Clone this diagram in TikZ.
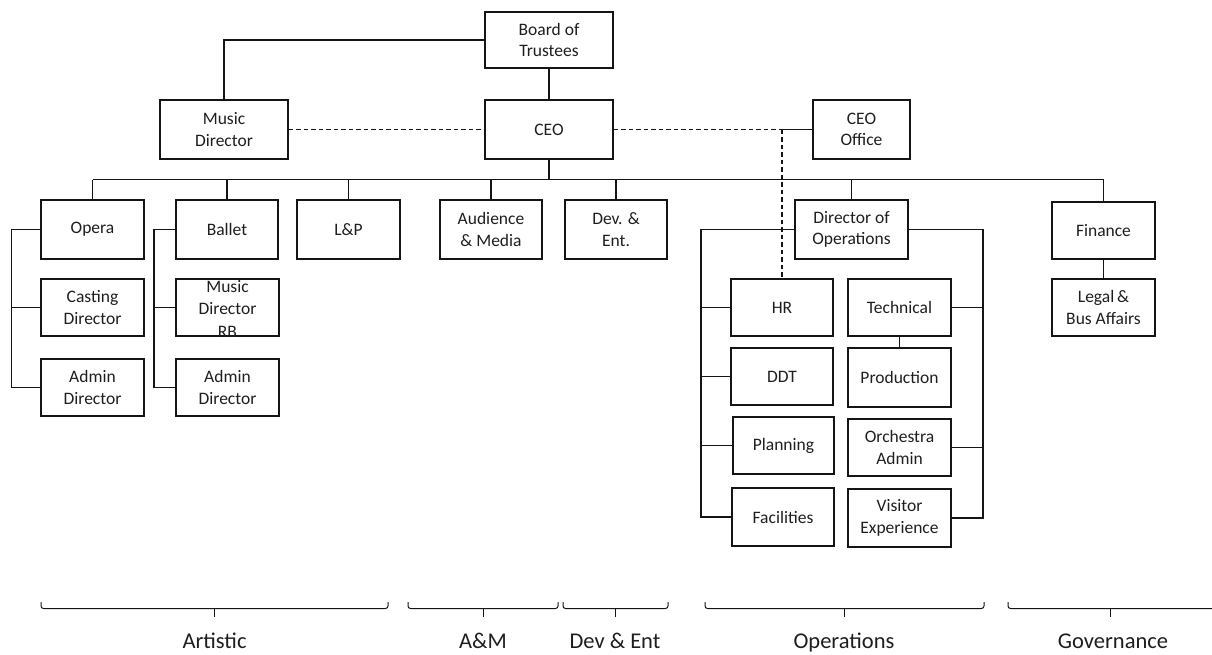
\documentclass[tikz,border=0pt]{standalone}
\usepackage{fontspec}
\setmainfont{Carlito}
\definecolor{linec}{HTML}{151515}
\definecolor{txtc}{HTML}{1E1E1E}
\newcommand\grpbrace[3]{%
  \draw[brace] (#1,602) -- (#1,608.5) -- (#2,608.5) -- (#2,602);
  \draw[brace] (#3,608.5) -- (#3,617);}
\begin{document}
\begin{tikzpicture}[x=1pt,y=-1pt,
  box/.style={draw=linec, line width=1.35pt, inner sep=0pt, align=center, text=txtc,
    font=\fontsize{17.5}{21.5}\selectfont},
  bw/.style={minimum width=#1pt},
  bh/.style={minimum height=#1pt},
  conn/.style={draw=linec, line width=1.15pt},
  thickconn/.style={draw=linec, line width=1.8pt},
  dashconn/.style={draw=linec, line width=1.1pt, dash pattern=on 4.5pt off 3pt},
  brace/.style={draw=linec, line width=1pt, rounded corners=2.5pt},
  grp/.style={text=txtc, font=\fontsize{22.5}{26}\selectfont, anchor=base, inner sep=0pt}]
\useasboundingbox (0,0) rectangle (1212,654);

% top level
\node[box, bw=128, bh=56] (bot) at (549,40) {Board of\\Trustees};
\node[box, bw=128, bh=59] (md) at (224,129.5) {Music\\Director};
\node[box, bw=128, bh=59] (ceo) at (549,129.5) {CEO};
\node[box, bw=97, bh=59] (ceooff) at (861.5,129.5) {CEO\\Office};

% second level
\node[box, bw=103, bh=59] (opera) at (92.5,229.5) {Opera};
\node[box, bw=102, bh=59] (ballet) at (227,229.5) {Ballet};
\node[box, bw=103, bh=59] (lp) at (348.5,229.5) {L\&P};
\node[box, bw=102, bh=59] (am) at (491,229.5) {Audience\\\& Media};
\node[box, bw=102, bh=59] (de) at (616,229.5) {Dev. \&\\Ent.};
\node[box, bw=113, bh=59] (doo) at (851.5,229.5) {Director of\\Operations};
\node[box, bw=103, bh=57] (fin) at (1103.5,230.5) {Finance};

% artistic
\node[box, bw=103, bh=57] (cast) at (92.5,307.5) {Casting\\Director};
\node[box, bw=103, bh=57] (adm1) at (92.5,387.5) {Admin\\Director};
\node[box, bw=103, bh=57] (mdrb) at (227.5,307.5) {};
\begin{scope}
  \clip (mdrb.south west) rectangle (mdrb.north east);
  \node[text=txtc, align=center, inner sep=0pt, font=\fontsize{17.5}{22.5}\selectfont] (mdrbt) at (227.5,308.5) {Music\\Director\\RB};
\end{scope}
\node[box, bw=103, bh=57] (adm2) at (227.5,387.5) {Admin\\Director};

% operations
\node[box, bw=102, bh=57] (hr) at (782,307.5) {HR};
\node[box, bw=102, bh=57] (ddt) at (782,376.5) {DDT};
\node[box, bw=101, bh=57] (plan) at (783.5,445.5) {Planning};
\node[box, bw=102, bh=58] (fac) at (783,517) {Facilities};
\node[box, bw=103, bh=57] (tech) at (899.5,307.5) {Technical};
\node[box, bw=103, bh=59] (prod) at (899.5,377.5) {Production};
\node[box, bw=103, bh=57] (orch) at (899.5,447.5) {Orchestra\\Admin};
\node[box, bw=103, bh=58] (vis) at (899.5,518) {Visitor\\Experience};

% governance
\node[box, bw=103, bh=57] (legal) at (1103.5,307.5) {Legal\,\&\\Bus Affairs};

% connectors: top
\draw[conn] (bot.west) -| (md.north);
\draw[conn] (bot.south) -- (ceo.north);
\draw[dashconn] (md.east) -- (ceo.west);
\coordinate (jn) at (hr.north |- ceo.east);
\draw[dashconn] (ceo.east) -- (jn);
\draw[conn] (jn) -- (ceooff.west);
\draw[dashconn] (jn) -- (hr.north);

% bus
\coordinate (bus) at (549,179.5);
\draw[draw=linec, line width=2.8pt] (ceo.south) -- (bus);
\draw[thickconn] (opera.north |- bus) -- (doo.north |- bus);
\draw[conn] (doo.north |- bus) -- (fin.north |- bus);
\foreach \n in {opera,ballet,lp,am,de,doo,fin}
  \draw[conn] (\n.north |- bus) -- (\n.north);

% opera / ballet brackets
\coordinate (ob) at (11.5,229.5);
\draw[conn] (opera.west) -- (ob) |- (adm1.west);
\draw[conn] (ob |- cast.west) -- (cast.west);
\coordinate (bb) at (154,229.5);
\draw[conn] (ballet.west) -- (bb) |- (adm2.west);
\draw[conn] (bb |- mdrb.west) -- (mdrb.west);

% operations brackets
\coordinate (dl) at (701,229.5);
\coordinate (dr) at (983,229.5);
\draw[thickconn] (doo.west) -- (dl) -- (dl |- plan.west);
\draw[conn] (dl |- plan.west) |- (fac.west);
\draw[conn] (dl |- hr.west) -- (hr.west);
\draw[conn] (dl |- ddt.west) -- (ddt.west);
\draw[conn] (dl |- plan.west) -- (plan.west);
\draw[thickconn] (doo.east) -- (dr) -- (dr |- orch.east);
\draw[conn] (dr |- orch.east) |- (vis.east);
\draw[conn] (dr |- tech.east) -- (tech.east);
\draw[conn] (dr |- orch.east) -- (orch.east);
\draw[conn] (tech.south) -- (prod.north);

% finance
\draw[conn] (fin.south) -- (legal.north);

% group braces
\grpbrace{41}{388}{214.5}
\grpbrace{408}{558}{483}
\grpbrace{563}{668}{615}
\grpbrace{705}{984}{844}
\draw[brace] (1008,602) -- (1008,608.5) -- (1213,608.5);
\draw[brace] (1110,608.5) -- (1110,617);

\node[grp] (gart) at (214.5,648) {Artistic};
\node[grp] (gam) at (483,648) {A\&M};
\node[grp] (gde) at (615,648) {Dev \& Ent};
\node[grp] (gops) at (844,648.5) {Operations};
\node[grp] (ggov) at (1113,648) {Governance};
\end{tikzpicture}
\end{document}
